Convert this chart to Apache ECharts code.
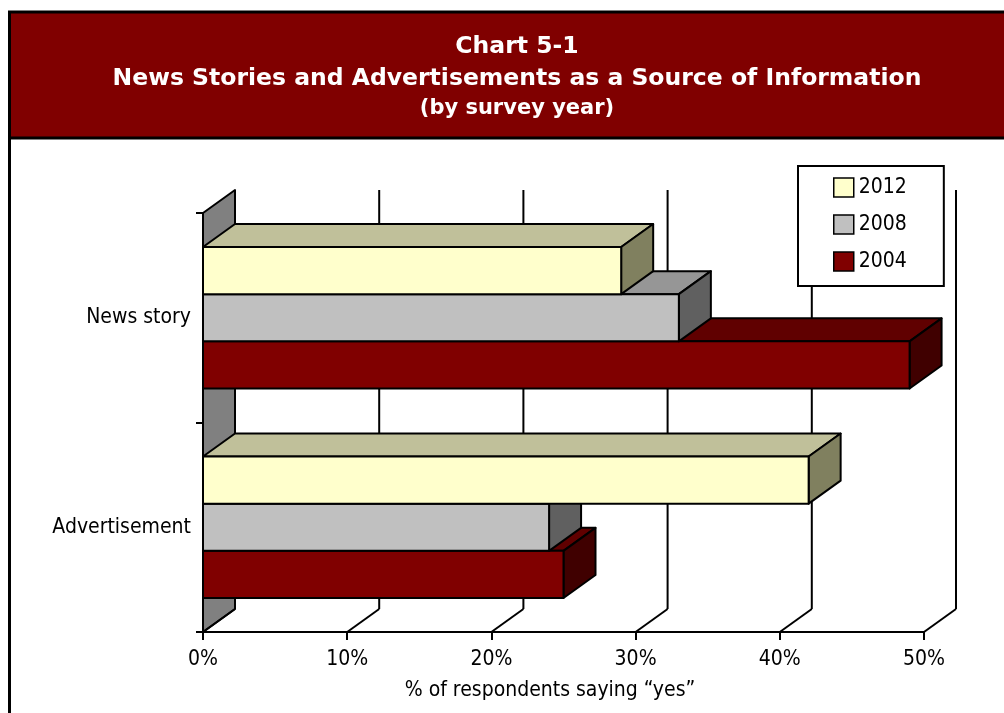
<!DOCTYPE html>
<html>
<head>
<meta charset="utf-8">
<script src="https://cdn.jsdelivr.net/npm/echarts@6/dist/echarts.min.js"></script>
<style>
  html, body { margin: 0; padding: 0; background: #fff; }
  #chart { width: 1004px; height: 713px; }
</style>
</head>
<body>
<div id="chart"></div>
<script>
// Source of information, by survey year (percent answering "yes")
const categories = ['News story', 'Advertisement'];
const years = ['2012', '2008', '2004'];
const values2012 = [29, 42];
const values2008 = [33, 24];
const values2004 = [49, 25];
const xTicks = [0, 10, 20, 30, 40, 50];

const titleLines = [
  'Chart 5-1',
  'News Stories and Advertisements as a Source of Information',
  '(by survey year)'
];
const axisTitle = '% of respondents saying \u201Cyes\u201D';

// 3-D look: depth offset of the back wall in pixels
const DX = 32, DY = 23;
const FONT = '"DejaVu Sans Condensed", "DejaVu Sans", sans-serif';
const TITLE_FONT = '"DejaVu Sans", sans-serif';

// face colours per year: front, top, side
const palette = {
  '2012': ['#FFFFCC', '#C0C09A', '#80805F'],
  '2008': ['#C0C0C0', '#969696', '#606060'],
  '2004': ['#800000', '#600000', '#400000']
};

const stroke = { stroke: '#000', lineWidth: 2, lineJoin: 'round' };

// slot = position of the bar inside the category group (0 = top)
function barRenderer(slot, cols) {
  return function (params, api) {
    const cat = api.value(1);
    const end = api.coord([api.value(0), cat]);
    const start = api.coord([0, cat]);
    const band = api.size([0, 1])[1];
    const h = band * 0.225;
    const y0 = end[1] - 1.5 * h + slot * h;
    const y1 = y0 + h;
    const x0 = start[0], x1 = end[0];
    return {
      type: 'group',
      children: [
        { type: 'polygon', shape: { points: [[x0, y0], [x1, y0], [x1 + DX, y0 - DY], [x0 + DX, y0 - DY]] },
          style: Object.assign({ fill: cols[1] }, stroke) },
        { type: 'polygon', shape: { points: [[x1, y0], [x1 + DX, y0 - DY], [x1 + DX, y1 - DY], [x1, y1]] },
          style: Object.assign({ fill: cols[2] }, stroke) },
        { type: 'polygon', shape: { points: [[x0, y0], [x1, y0], [x1, y1], [x0, y1]] },
          style: Object.assign({ fill: cols[0] }, stroke) }
      ]
    };
  };
}

// back wall gridlines, floor lines and the grey side wall
function frameRenderer(params, api) {
  const p = api.coord([api.value(0), 0]);
  const band = api.size([0, 1])[1];
  const top = p[1] - band / 2;
  const bottom = top + band * categories.length;
  const x = p[0];
  const children = [];
  if (params.dataIndex === 0) {
    children.push({ type: 'polygon',
      shape: { points: [[x, top], [x + DX, top - DY], [x + DX, bottom - DY], [x, bottom]] },
      style: Object.assign({ fill: '#808080' }, stroke) });
  }
  children.push({ type: 'line', shape: { x1: x + DX, y1: top - DY, x2: x + DX, y2: bottom - DY }, style: stroke });
  children.push({ type: 'line', shape: { x1: x, y1: bottom, x2: x + DX, y2: bottom - DY }, style: stroke });
  return { type: 'group', children: children };
}

const seriesValues = { '2012': values2012, '2008': values2008, '2004': values2004 };

const barSeries = years.map(function (yr, slot) {
  return {
    name: yr,
    type: 'custom',
    coordinateSystem: 'cartesian2d',
    z: 10 - slot,
    silent: true,
    itemStyle: { color: palette[yr][0] },
    encode: { x: 0, y: 1 },
    renderItem: barRenderer(slot, palette[yr]),
    data: seriesValues[yr].map(function (v, i) { return [v, i]; })
  };
});

const chart = echarts.init(document.getElementById('chart'), null, { renderer: 'canvas' });

chart.setOption({
  animation: false,
  backgroundColor: '#fff',
  title: [
    { text: titleLines[0], left: 512, top: 30, textAlign: 'center',
      textStyle: { color: '#fff', fontFamily: TITLE_FONT, fontWeight: 'bold', fontSize: 23.5 } },
    { text: titleLines[1], left: 512, top: 62, textAlign: 'center',
      textStyle: { color: '#fff', fontFamily: TITLE_FONT, fontWeight: 'bold', fontSize: 23.5 } },
    { text: titleLines[2], left: 512, top: 93, textAlign: 'center',
      textStyle: { color: '#fff', fontFamily: TITLE_FONT, fontWeight: 'bold', fontSize: 21 } }
  ],
  graphic: [
    { type: 'rect', z: -1, shape: { x: 9.5, y: 12, width: 1000, height: 126 },
      style: { fill: '#800000', stroke: '#000', lineWidth: 3 } },
    { type: 'line', z: -1, shape: { x1: 9.5, y1: 138, x2: 9.5, y2: 713 },
      style: { stroke: '#000', lineWidth: 3 } }
  ],
  legend: {
    orient: 'vertical',
    left: 798,
    top: 166,
    backgroundColor: '#fff',
    borderColor: '#000',
    borderWidth: 2,
    padding: [11, 37, 14, 35],
    itemWidth: 20,
    itemHeight: 19,
    itemGap: 16,
    textStyle: { color: '#000', fontFamily: FONT, fontSize: 21, lineHeight: 19 },
    data: years.map(function (yr) {
      return { name: yr, icon: 'rect',
        itemStyle: { color: palette[yr][0], borderColor: '#000', borderWidth: 1.5 } };
    })
  },
  grid: { left: 203, right: 80, top: 213, bottom: 81 },
  xAxis: {
    type: 'value',
    min: 0,
    max: 50,
    interval: 10,
    name: axisTitle,
    nameLocation: 'middle',
    nameGap: 48,
    nameTextStyle: { color: '#000', fontFamily: FONT, fontSize: 21, padding: [0, 27, 0, 0] },
    axisLine: { show: true, lineStyle: { color: '#000', width: 2 } },
    axisTick: { show: true, length: 8, lineStyle: { color: '#000', width: 2 } },
    axisLabel: { formatter: '{value}%', color: '#000', fontFamily: FONT, fontSize: 21, margin: 17 },
    splitLine: { show: false }
  },
  yAxis: {
    type: 'category',
    inverse: true,
    data: categories,
    axisLine: { show: true, lineStyle: { color: '#000', width: 2 } },
    axisTick: { show: true, length: 7, lineStyle: { color: '#000', width: 2 } },
    axisLabel: { color: '#000', fontFamily: FONT, fontSize: 21, margin: 12 },
    splitLine: { show: false }
  },
  series: [{
    name: 'frame',
    type: 'custom',
    coordinateSystem: 'cartesian2d',
    z: 1,
    silent: true,
    encode: { x: 0, y: 1 },
    renderItem: frameRenderer,
    data: xTicks.map(function (v) { return [v, 0]; })
  }].concat(barSeries)
});
</script>
</body>
</html>
